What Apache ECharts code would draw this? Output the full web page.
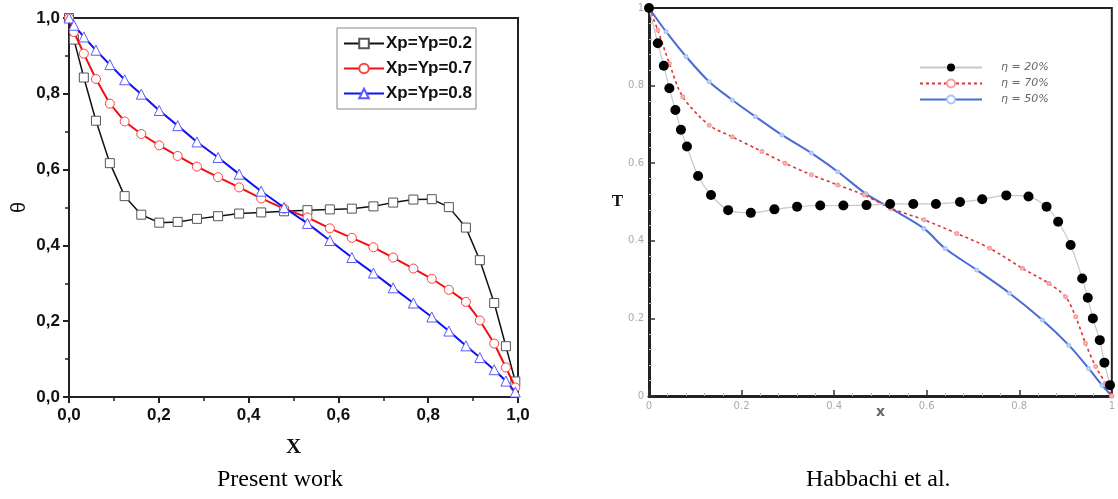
<!DOCTYPE html>
<html>
<head>
<meta charset="utf-8">
<script src="https://cdn.jsdelivr.net/npm/echarts@6/dist/echarts.min.js"></script>
<style>
html,body{margin:0;padding:0;background:#fff;}
#c{width:1118px;height:499px;}
</style>
</head>
<body>
<div id="c"></div>
<script>
// ---- Left chart (Present work) ----
const xLeft = [0, 0.011, 0.033, 0.060, 0.091, 0.124, 0.161, 0.201, 0.242, 0.285, 0.332, 0.379, 0.428, 0.479, 0.531, 0.581, 0.630, 0.678, 0.722, 0.767, 0.808, 0.846, 0.884, 0.915, 0.947, 0.973, 0.994, 1.0];
const thetaP02 = [1.0, 0.943, 0.843, 0.729, 0.617, 0.530, 0.481, 0.460, 0.462, 0.470, 0.477, 0.484, 0.487, 0.490, 0.493, 0.495, 0.497, 0.503, 0.513, 0.521, 0.522, 0.501, 0.447, 0.361, 0.248, 0.134, 0.041, 0.005];
const thetaP07 = [1.0, 0.963, 0.906, 0.839, 0.774, 0.727, 0.694, 0.664, 0.636, 0.608, 0.580, 0.553, 0.524, 0.497, 0.474, 0.445, 0.420, 0.395, 0.368, 0.339, 0.312, 0.283, 0.251, 0.202, 0.141, 0.078, 0.025, 0.015];
const thetaP08 = [1.0, 0.981, 0.950, 0.915, 0.877, 0.837, 0.799, 0.756, 0.716, 0.673, 0.632, 0.588, 0.543, 0.500, 0.458, 0.413, 0.368, 0.327, 0.288, 0.248, 0.211, 0.174, 0.135, 0.104, 0.072, 0.042, 0.013, 0.0];
const leftNames = ['Xp=Yp=0.2', 'Xp=Yp=0.7', 'Xp=Yp=0.8'];

// ---- Right chart (Habbachi et al.) ----
const xEta20 = [0, 0.019, 0.032, 0.044, 0.057, 0.069, 0.082, 0.106, 0.134, 0.171, 0.220, 0.271, 0.320, 0.370, 0.420, 0.470, 0.521, 0.571, 0.620, 0.672, 0.720, 0.772, 0.820, 0.859, 0.884, 0.911, 0.936, 0.948, 0.959, 0.974, 0.984, 0.996];
const tEta20 = [1.0, 0.909, 0.851, 0.793, 0.737, 0.686, 0.643, 0.567, 0.518, 0.479, 0.472, 0.481, 0.488, 0.491, 0.491, 0.492, 0.495, 0.495, 0.495, 0.500, 0.507, 0.517, 0.514, 0.488, 0.449, 0.389, 0.303, 0.253, 0.200, 0.144, 0.086, 0.028];
const xEta70 = [0, 0.019, 0.044, 0.073, 0.130, 0.180, 0.244, 0.294, 0.351, 0.408, 0.465, 0.522, 0.594, 0.665, 0.736, 0.807, 0.864, 0.900, 0.922, 0.943, 0.965, 0.986, 1.0];
const tEta70 = [1.0, 0.943, 0.857, 0.771, 0.698, 0.668, 0.630, 0.600, 0.570, 0.544, 0.518, 0.484, 0.454, 0.419, 0.381, 0.329, 0.290, 0.256, 0.204, 0.136, 0.076, 0.033, 0.0];
const xEta50 = [0, 0.037, 0.080, 0.130, 0.180, 0.230, 0.287, 0.351, 0.408, 0.469, 0.522, 0.594, 0.640, 0.708, 0.779, 0.850, 0.907, 0.950, 0.979, 1.0];
const tEta50 = [1.0, 0.939, 0.875, 0.810, 0.763, 0.720, 0.673, 0.626, 0.578, 0.521, 0.484, 0.432, 0.380, 0.325, 0.265, 0.196, 0.131, 0.071, 0.028, 0.0];
const rightNames = ['η = 20%', 'η = 70%', 'η = 50%'];

const axisTicks = [0, 0.2, 0.4, 0.6, 0.8, 1.0];
const captions = ['Present work', 'Habbachi et al.'];

function pairs(xs, ys, lastNoSymbol) {
  return xs.map((x, i) => {
    if (lastNoSymbol && i === xs.length - 1) return {value: [x, ys[i]], symbol: 'none'};
    return [x, ys[i]];
  });
}

const commaFmt = v => v.toFixed(1).replace('.', ',');

const chart = echarts.init(document.getElementById('c'), null, {renderer: 'canvas'});
const option = {
  backgroundColor: '#fff',
  animation: false,
  grid: [
    {left: 69, top: 18, width: 449, height: 379, show: true, borderColor: '#222', borderWidth: 2, backgroundColor: 'transparent'},
    {left: 649, top: 8, width: 468, height: 388, show: true, borderColor: '#222', borderWidth: 2, backgroundColor: 'transparent'}
  ],
  legend: [
    {
      data: leftNames.map(n => ({name: n})),
      left: 337, top: 28, orient: 'vertical',
      itemWidth: 40, itemHeight: 12, itemGap: 8,
      padding: [7, 4, 7, 6],
      backgroundColor: '#fff', borderColor: '#888', borderWidth: 1, borderRadius: 0,
      textStyle: {fontFamily: 'Liberation Sans, Arial', fontWeight: 'bold', fontSize: 17, color: '#111', padding: [0, 0, 0, -3]}
    },
    {
      data: rightNames.map(n => ({name: n})),
      left: 914, top: 57, orient: 'vertical',
      itemWidth: 62, itemHeight: 10, itemGap: 5,
      textStyle: {fontFamily: 'DejaVu Sans, Arial', fontStyle: 'italic', fontSize: 11, color: '#666', padding: [0, 0, 0, 14]}
    }
  ],
  xAxis: [
    {
      gridIndex: 0, type: 'value', min: 0, max: 1, interval: 0.2,
      name: 'X', nameLocation: 'middle', nameGap: 40,
      nameTextStyle: {fontFamily: 'Liberation Serif, Times New Roman', fontWeight: 'bold', fontSize: 21, color: '#111'},
      axisLine: {onZero: false, lineStyle: {color: '#222', width: 2}},
      axisTick: {show: true, inside: false, length: 6, lineStyle: {color: '#222', width: 2}},
      minorTick: {show: true, splitNumber: 2, length: 4, lineStyle: {color: '#222', width: 1.5}},
      axisLabel: {formatter: commaFmt, fontFamily: 'Liberation Sans, Arial', fontWeight: 'bold', fontSize: 17, color: '#111', margin: 10},
      splitLine: {show: false}
    },
    {
      gridIndex: 1, type: 'value', min: 0, max: 1, interval: 0.2,
      name: 'x', nameLocation: 'middle', nameGap: 9, nameMoveOverlap: false,
      nameTextStyle: {fontFamily: 'DejaVu Sans, Arial', fontWeight: 'bold', fontSize: 14, color: '#666'},
      axisLine: {onZero: false, lineStyle: {color: '#222', width: 3}},
      axisTick: {show: true, inside: true, length: 6, lineStyle: {color: '#333', width: 1.5}},
      minorTick: {show: true, splitNumber: 5, length: 3, lineStyle: {color: '#bbb', width: 1}},
      axisLabel: {fontFamily: 'DejaVu Sans, Arial', fontSize: 10, color: '#aaa', margin: 5},
      splitLine: {show: false}
    }
  ],
  yAxis: [
    {
      gridIndex: 0, type: 'value', min: 0, max: 1, interval: 0.2,
      name: 'θ', nameLocation: 'middle', nameGap: 40, nameRotate: 90,
      nameTextStyle: {fontFamily: 'Liberation Sans, Arial', fontSize: 20, color: '#111'},
      axisLine: {onZero: false, lineStyle: {color: '#222', width: 2}},
      axisTick: {show: true, inside: false, length: 6, lineStyle: {color: '#222', width: 2}},
      minorTick: {show: true, splitNumber: 2, length: 4, lineStyle: {color: '#222', width: 1.5}},
      axisLabel: {formatter: commaFmt, fontFamily: 'Liberation Sans, Arial', fontWeight: 'bold', fontSize: 17, color: '#111', margin: 9},
      splitLine: {show: false}
    },
    {
      gridIndex: 1, type: 'value', min: 0, max: 1, interval: 0.2,
      name: 'T', nameLocation: 'middle', nameGap: 22, nameRotate: 0,
      nameTextStyle: {fontFamily: 'Liberation Serif, Times New Roman', fontWeight: 'bold', fontSize: 17, color: '#111'},
      axisLine: {onZero: false, lineStyle: {color: '#222', width: 3}},
      axisTick: {show: true, inside: true, length: 6, lineStyle: {color: '#333', width: 1.5}},
      minorTick: {show: true, splitNumber: 5, length: 3, lineStyle: {color: '#bbb', width: 1}},
      axisLabel: {fontFamily: 'DejaVu Sans, Arial', fontSize: 10, color: '#aaa', margin: 5},
      splitLine: {show: false}
    }
  ],
  series: [
    {
      name: leftNames[0], type: 'line', xAxisIndex: 0, yAxisIndex: 0,
      data: pairs(xLeft, thetaP02, true),
      symbol: 'rect', symbolSize: 9,
      lineStyle: {color: '#111', width: 1.5},
      itemStyle: {color: '#fff', borderColor: '#555', borderWidth: 1},
      z: 3
    },
    {
      name: leftNames[1], type: 'line', xAxisIndex: 0, yAxisIndex: 0,
      data: pairs(xLeft, thetaP07, true),
      symbol: 'circle', symbolSize: 9,
      lineStyle: {color: '#f01010', width: 2},
      itemStyle: {color: '#fff', borderColor: '#ff4040', borderWidth: 1},
      z: 4
    },
    {
      name: leftNames[2], type: 'line', xAxisIndex: 0, yAxisIndex: 0,
      data: pairs(xLeft, thetaP08, true),
      symbol: 'triangle', symbolSize: 10,
      lineStyle: {color: '#1010f0', width: 2},
      itemStyle: {color: '#fff', borderColor: '#5a5aff', borderWidth: 1},
      z: 5
    },
    {
      name: rightNames[0], type: 'line', xAxisIndex: 1, yAxisIndex: 1,
      data: pairs(xEta20, tEta20, false),
      smooth: 0.3,
      symbol: 'circle', symbolSize: 10,
      lineStyle: {color: '#c8c8c8', width: 1.2},
      itemStyle: {color: '#000'},
      z: 5
    },
    {
      name: rightNames[1], type: 'line', xAxisIndex: 1, yAxisIndex: 1,
      data: pairs(xEta70, tEta70, false),
      smooth: 0.3,
      symbol: 'emptyCircle', symbolSize: 3,
      lineStyle: {color: '#e53030', width: 1.6, type: [3, 3]},
      itemStyle: {color: '#f8a0a0', borderColor: '#f8a0a0', borderWidth: 1},
      z: 4
    },
    {
      name: rightNames[2], type: 'line', xAxisIndex: 1, yAxisIndex: 1,
      data: pairs(xEta50, tEta50, false),
      smooth: 0.3,
      symbol: 'emptyCircle', symbolSize: 3,
      lineStyle: {color: '#4a6bd8', width: 2},
      itemStyle: {color: '#a8c8f0', borderColor: '#a8c8f0', borderWidth: 1},
      z: 3
    }
  ],
  graphic: [
    {type: 'text', left: 282 - 65, top: 468, style: {text: captions[0], fontFamily: 'Liberation Serif, Times New Roman', fontSize: 24, fill: '#000'}},
    {type: 'text', left: 883 - 77, top: 468, style: {text: captions[1], fontFamily: 'Liberation Serif, Times New Roman', fontSize: 24, fill: '#000'}}
  ]
};
chart.setOption(option);
</script>
</body>
</html>
